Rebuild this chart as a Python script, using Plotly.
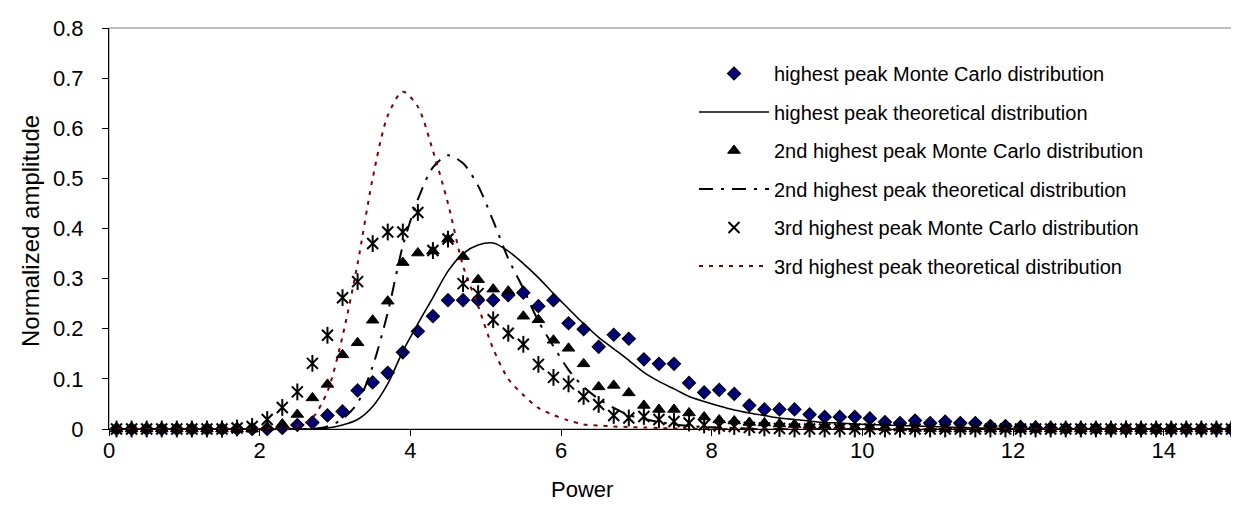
import plotly.graph_objects as go

# x positions (bin centres) shared by every series
power = [0.1, 0.3, 0.5, 0.7, 0.9, 1.1, 1.3, 1.5, 1.7, 1.9,
         2.1, 2.3, 2.5, 2.7, 2.9, 3.1, 3.3, 3.5, 3.7, 3.9,
         4.1, 4.3, 4.5, 4.7, 4.9, 5.1, 5.3, 5.5, 5.7, 5.9,
         6.1, 6.3, 6.5, 6.7, 6.9, 7.1, 7.3, 7.5, 7.7, 7.9,
         8.1, 8.3, 8.5, 8.7, 8.9, 9.1, 9.3, 9.5, 9.7, 9.9,
         10.1, 10.3, 10.5, 10.7, 10.9, 11.1, 11.3, 11.5, 11.7, 11.9,
         12.1, 12.3, 12.5, 12.7, 12.9, 13.1, 13.3, 13.5, 13.7, 13.9,
         14.1, 14.3, 14.5, 14.7, 14.9]

mc_highest = [0, 0, 0, 0, 0, 0, 0, 0, 0, 0,
              0, 0.002, 0.008, 0.013, 0.027, 0.035, 0.077, 0.093, 0.112, 0.153,
              0.195, 0.225, 0.257, 0.257, 0.257, 0.257, 0.267, 0.272, 0.245, 0.257,
              0.211, 0.199, 0.164, 0.188, 0.180, 0.139, 0.130, 0.130, 0.092, 0.073,
              0.078, 0.070, 0.047, 0.039, 0.039, 0.039, 0.029, 0.024, 0.024, 0.024,
              0.021, 0.014, 0.012, 0.017, 0.012, 0.015, 0.012, 0.012, 0.006, 0.006,
              0.004, 0.003, 0.002, 0.001, 0.001, 0.001, 0, 0, 0, 0,
              0, 0, 0, 0, 0]

th_highest = [0, 0, 0, 0, 0, 0, 0, 0, 0, 0,
              0, 0, 0, 0, 0.002, 0.008, 0.019, 0.045, 0.090, 0.155,
              0.210, 0.262, 0.315, 0.350, 0.367, 0.371, 0.355, 0.330, 0.302, 0.270,
              0.240, 0.210, 0.183, 0.160, 0.137, 0.113, 0.095, 0.080, 0.065, 0.055,
              0.046, 0.038, 0.032, 0.027, 0.022, 0.019, 0.016, 0.013, 0.012, 0.010,
              0.009, 0.008, 0.007, 0.006, 0.005, 0.004, 0.003, 0.002, 0.002, 0.001,
              0, 0, 0, 0, 0, 0, 0, 0, 0, 0,
              0, 0, 0, 0, 0]

mc_second = [0, 0, 0, 0, 0, 0, 0, 0, 0, 0,
             0.003, 0.010, 0.029, 0.062, 0.089, 0.148, 0.172, 0.217, 0.255, 0.332,
             0.351, 0.355, 0.379, 0.344, 0.298, 0.279, 0.275, 0.225, 0.218, 0.177,
             0.161, 0.130, 0.084, 0.087, 0.072, 0.047, 0.039, 0.039, 0.032, 0.024,
             0.018, 0.016, 0.013, 0.012, 0.010, 0.009, 0.008, 0.007, 0.005, 0.004,
             0.004, 0.003, 0.002, 0.001, 0.001, 0, 0, 0, 0, 0,
             0, 0, 0, 0, 0, 0, 0, 0, 0, 0,
             0, 0, 0, 0, 0]

th_second = [0, 0, 0, 0, 0, 0, 0, 0, 0, 0,
             0, 0, 0, 0, 0.005, 0.020, 0.052, 0.125, 0.232, 0.365,
             0.458, 0.522, 0.546, 0.530, 0.485, 0.415, 0.340, 0.280, 0.215, 0.165,
             0.118, 0.084, 0.060, 0.042, 0.028, 0.020, 0.014, 0.009, 0.006, 0.004,
             0.003, 0.002, 0.001, 0, 0, 0, 0, 0, 0, 0,
             0, 0, 0, 0, 0, 0, 0, 0, 0, 0,
             0, 0, 0, 0, 0, 0, 0, 0, 0, 0,
             0, 0, 0, 0, 0]

mc_third = [0, 0, 0, 0, 0, 0, 0, 0, 0.002, 0.005,
            0.019, 0.043, 0.074, 0.131, 0.187, 0.262, 0.294, 0.370, 0.393, 0.393,
            0.432, 0.356, 0.379, 0.290, 0.270, 0.218, 0.191, 0.169, 0.129, 0.103,
            0.090, 0.065, 0.049, 0.027, 0.022, 0.025, 0.019, 0.015, 0.012, 0.008,
            0.006, 0.005, 0.003, 0.002, 0.001, 0, 0, 0, 0, 0,
            0, 0, 0, 0, 0, 0, 0, 0, 0, 0,
            0, 0, 0, 0, 0, 0, 0, 0, 0, 0,
            0, 0, 0, 0, 0]

th_third = [0, 0, 0, 0, 0, 0, 0, 0, 0, 0,
            0, 0, 0.005, 0.022, 0.075, 0.185, 0.330, 0.500, 0.625, 0.673,
            0.643, 0.555, 0.450, 0.325, 0.245, 0.160, 0.100, 0.068, 0.042, 0.028,
            0.017, 0.009, 0.007, 0.005, 0.004, 0.003, 0.002, 0.001, 0, 0,
            0, 0, 0, 0, 0, 0, 0, 0, 0, 0,
            0, 0, 0, 0, 0, 0, 0, 0, 0, 0,
            0, 0, 0, 0, 0, 0, 0, 0, 0, 0,
            0, 0, 0, 0, 0]

names = ["highest peak Monte Carlo distribution",
         "highest peak theoretical distribution",
         "2nd highest peak Monte Carlo distribution",
         "2nd highest peak theoretical distribution",
         "3rd highest peak Monte Carlo distribution",
         "3rd highest peak theoretical distribution"]

x_ticks = [0, 2, 4, 6, 8, 10, 12, 14]
x_title = "Power"
y_title = "Normalized amplitude"

FONT = "Liberation Sans, Arial, sans-serif"
W, H = 1239, 511
ML, MR, MT, MB = 101, 8, 20, 90
PW, PH = W - ML - MR, H - MT - MB

fig = go.Figure()

fig.add_trace(go.Scatter(
    x=power, y=mc_highest, mode="markers", name=names[0], legendgroup="g1",
    cliponaxis=False,
    marker=dict(symbol="diamond", size=10, color="#000080",
                line=dict(color="black", width=1.2))))

fig.add_trace(go.Scatter(
    x=power, y=th_highest, mode="lines", name=names[1], legendgroup="g2",
    line=dict(color="black", width=1.6, shape="spline", smoothing=0.8)))

fig.add_trace(go.Scatter(
    x=power, y=mc_second, mode="markers", name=names[2], legendgroup="g3",
    cliponaxis=False,
    marker=dict(symbol="triangle-up", size=11, color="black",
                line=dict(color="black", width=1))))

fig.add_trace(go.Scatter(
    x=power, y=th_second, mode="lines", name=names[3], legendgroup="g4",
    line=dict(color="black", width=2, dash="14px,8px,3px,8px",
              shape="spline", smoothing=0.8)))

fig.add_trace(go.Scatter(
    x=power, y=mc_third, mode="markers", name=names[4], legendgroup="g5",
    cliponaxis=False,
    marker=dict(symbol="x-thin-open", size=11, color="black",
                line=dict(color="black", width=2))))
fig.add_trace(go.Scatter(
    x=power, y=mc_third, mode="markers", name=names[4], legendgroup="g5",
    showlegend=False, cliponaxis=False, hoverinfo="skip",
    marker=dict(symbol="line-ns-open", size=12, color="black",
                line=dict(color="black", width=2))))

fig.add_trace(go.Scatter(
    x=power, y=th_third, mode="lines", name=names[5], legendgroup="g6",
    line=dict(color="#800000", width=2, dash="4px,6px",
              shape="spline", smoothing=0.8)))

fig.update_layout(
    width=W, height=H,
    margin=dict(l=ML, r=MR, t=MT, b=MB),
    paper_bgcolor="white", plot_bgcolor="white",
    font=dict(family=FONT, size=22, color="black"),
    showlegend=True,
    legend=dict(x=(686 - ML) / PW, y=(MT + PH - 46) / PH, xanchor="left", yanchor="top",
                bgcolor="rgba(0,0,0,0)", borderwidth=0,
                font=dict(family=FONT, size=20, color="black"),
                traceorder="grouped", tracegroupgap=9.5, itemwidth=70),
    shapes=[dict(type="rect", xref="paper", yref="paper", x0=0, x1=1, y0=0, y1=1,
                 line=dict(color="#808080", width=1), layer="below")],
    annotations=[
        dict(text=x_title, xref="paper", yref="paper",
             x=(574 - ML) / PW, y=-(481 - MT - PH) / PH,
             xanchor="center", yanchor="middle", showarrow=False,
             font=dict(family=FONT, size=22, color="black")),
        dict(text=y_title, xref="paper", yref="paper",
             x=(22 - ML) / PW, y=(MT + PH - 223) / PH, textangle=-90,
             xanchor="center", yanchor="middle", showarrow=False,
             font=dict(family=FONT, size=24, color="black")),
    ],
)

fig.update_xaxes(
    range=[0, 15], tickvals=x_ticks, ticks="outside", ticklen=6, tickcolor="black",
    showline=True, linecolor="black", linewidth=1, showgrid=False, zeroline=False,
    automargin=False, tickfont=dict(size=22), ticklabelstandoff=-4)

fig.update_yaxes(
    range=[0, 0.8], dtick=0.1, ticks="outside", ticklen=6, tickcolor="black",
    showline=True, linecolor="black", linewidth=1, showgrid=False, zeroline=False,
    automargin=False, tickfont=dict(size=22), ticklabelstandoff=14)

fig.write_html("out.html")
